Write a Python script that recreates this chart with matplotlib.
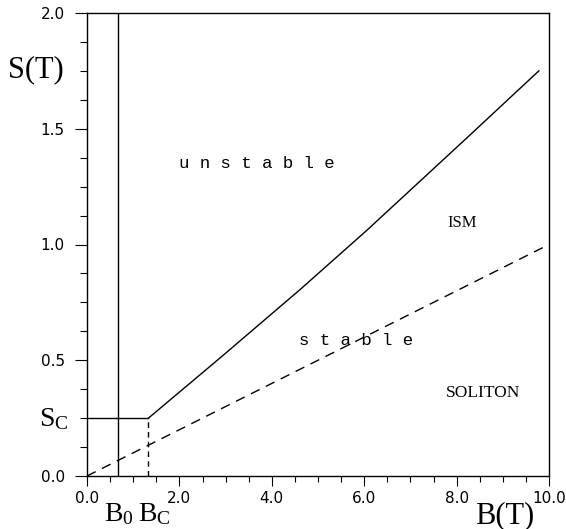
import numpy as np
import matplotlib
matplotlib.use("Agg")
import matplotlib.pyplot as plt
from matplotlib.ticker import MultipleLocator, FormatStrFormatter
import matplotlib.transforms as mtransforms

plt.rcParams["mathtext.fontset"] = "custom"
plt.rcParams["mathtext.rm"] = "Liberation Serif"

# critical values
B0 = 0.68
BC = 1.33
SC = 0.25

# upper (solid) boundary
b_upper = [1.33, 2.88, 4.61, 6.05, 8.22, 9.78]
s_upper = [0.25, 0.51, 0.805, 1.06, 1.46, 1.75]

# lower (dashed) boundary
b_lower = [0.0, 10.0]
s_lower = [0.0, 1.0]

x_ticks = [0.0, 2.0, 4.0, 6.0, 8.0, 10.0]
y_ticks = [0.0, 0.5, 1.0, 1.5, 2.0]

fig = plt.figure(figsize=(5.66, 5.29), dpi=100)
ax = fig.add_axes([87 / 566, 53 / 529, 462 / 566, 463 / 529])

lw = 1.0
ax.plot(b_upper, s_upper, "k-", lw=lw)
ax.plot([0, BC], [SC, SC], "k-", lw=lw)
ax.plot([B0, B0], [0, 2.0], "k-", lw=lw)
ax.plot([BC, BC], [0, SC], "k--", lw=lw, dashes=(4, 3))
ax.plot(b_lower, s_lower, "k--", lw=lw, dashes=(7, 5))

ax.set_xlim(0, 10)
ax.set_ylim(0, 2)
ax.set_xticks(x_ticks)
ax.set_yticks(y_ticks)
ax.xaxis.set_minor_locator(MultipleLocator(0.5))
ax.yaxis.set_minor_locator(MultipleLocator(0.125))
ax.xaxis.set_major_formatter(FormatStrFormatter("%.1f"))
ax.yaxis.set_major_formatter(FormatStrFormatter("%.1f"))
ax.tick_params(which="both", direction="out", top=False, right=False,
               labelsize=11, width=0.8)
ax.tick_params(axis="y", which="major", length=9, pad=7)
ax.tick_params(axis="y", which="minor", length=5)
ax.tick_params(axis="x", which="major", length=7, pad=4)
ax.tick_params(axis="x", which="minor", length=4)
for sp in ax.spines.values():
    sp.set_linewidth(1.0)

serif = "Liberation Serif"
tr_y = mtransforms.blended_transform_factory(ax.transAxes, ax.transData)
tr_x = mtransforms.blended_transform_factory(ax.transData, ax.transAxes)

ax.text(-0.11, 1.754, "S(T)", transform=tr_y, ha="center", va="center",
        family=serif, fontsize=22)
ax.text(0.905, -0.085, "B(T)", transform=ax.transAxes, ha="center",
        va="center", family=serif, fontsize=22)
ax.text(-0.04, SC, r"$\mathrm{S_C}$", transform=tr_y, ha="right",
        va="center", fontsize=20)
ax.text(B0, -0.08, r"$\mathrm{B_0}$", transform=tr_x, ha="center",
        va="center", fontsize=20)
ax.text(BC + 0.12, -0.08, r"$\mathrm{B_C}$", transform=tr_x, ha="center",
        va="center", fontsize=20)

mono = "Liberation Mono"
ax.text(3.68, 1.352, "u n s t a b l e", ha="center", va="center",
        family=mono, fontsize=12.5)
ax.text(5.83, 0.587, "s t a b l e", ha="center", va="center",
        family=mono, fontsize=12.5)
ax.text(8.11, 1.093, "ISM", ha="center", va="center", family=serif,
        fontsize=12)
ax.text(8.58, 0.358, "SOLITON", ha="center", va="center", family=serif,
        fontsize=12.5)

fig.savefig("out.png", dpi=100)
